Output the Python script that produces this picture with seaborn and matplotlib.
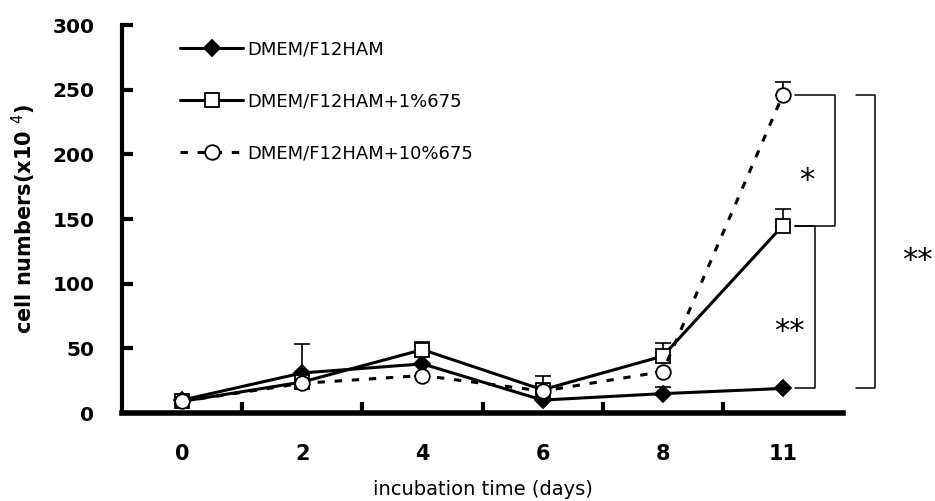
import pandas as pd
import matplotlib
matplotlib.use("Agg")
import matplotlib.pyplot as plt
import seaborn as sns

days = ["0", "2", "4", "6", "8", "11"]
labels = ["DMEM/F12HAM", "DMEM/F12HAM+1%675", "DMEM/F12HAM+10%675"]
base = [10, 31, 38, 10, 15, 19]
one_pct = [9, 24, 49, 18, 44, 145]
ten_pct = [9, 23, 29, 17, 32, 246]
base_err = [0, 22, 0, 0, 5, 0]
one_err = [0, 0, 6, 11, 10, 13]
ten_err = [0, 0, 0, 0, 0, 10]

sns.set_style("ticks")
plt.rcParams["font.family"] = ["DejaVu Sans"]
for k in ["text.color", "axes.labelcolor", "xtick.color", "ytick.color", "axes.edgecolor"]:
    plt.rcParams[k] = "black"

fig = plt.figure(figsize=(9.35, 5.01), dpi=100)
ax = fig.add_axes([0.1305, 0.1756, 0.7711, 0.7744])

series = [
    (labels[0], base, base_err, "D", "-", "black", 8),
    (labels[1], one_pct, one_err, "s", "-", "white", 10),
    (labels[2], ten_pct, ten_err, "o", (0, (2.4, 3.2)), "white", 10.5),
]

for i, (name, vals, err, mk, ls, face, ms) in enumerate(series):
    df = pd.DataFrame({"day": days, "cells": vals})
    ax.errorbar(range(len(days)), vals, yerr=[[0] * len(err), err], fmt="none",
                ecolor="black", elinewidth=1.2, capsize=6, capthick=1.2, zorder=1)
    sns.pointplot(data=df, x="day", y="cells", order=days, ax=ax, color="black",
                  marker=mk, linestyle=ls, markersize=ms, markerfacecolor=face,
                  markeredgecolor="black", markeredgewidth=1.3, linewidth=2.2,
                  errorbar=None, label=name)

# legend
handles, hl = ax.get_legend_handles_labels()
order = [hl.index(l) for l in labels]
leg = ax.legend([handles[i] for i in order], labels, loc="upper left",
                bbox_to_anchor=(0.058, 1.003), frameon=False, handlelength=3.5,
                handletextpad=0.2, labelspacing=1.9,
                prop={"family": "DejaVu Sans", "size": 13})

# significance brackets
x_in0, x_in1, x_mid, x_out0, x_out1 = 5.1, 5.43, 5.265, 5.61, 5.77
ax.plot([x_in0, x_in1, x_in1, x_in0], [ten_pct[5], ten_pct[5], one_pct[5], one_pct[5]],
        color="black", lw=1.1, clip_on=False)
ax.plot([x_in0, x_mid, x_mid, x_in0], [one_pct[5], one_pct[5], base[5], base[5]],
        color="black", lw=1.1, clip_on=False)
ax.plot([x_out0, x_out1, x_out1, x_out0], [ten_pct[5], ten_pct[5], base[5], base[5]],
        color="black", lw=1.1, clip_on=False)
ax.text(5.2, 180, "*", fontsize=22, ha="center", va="center")
ax.text(5.05, 63, "**", fontsize=22, ha="center", va="center")
ax.text(6.12, 118, "**", fontsize=22, ha="center", va="center", clip_on=False)

ax.set_xlim(-0.5, 5.5)
ax.set_ylim(0, 300)
ax.set_yticks(range(0, 301, 50))
ax.set_xticks(range(len(days)))
ax.set_xticklabels(days)
ax.set_xticks([0.5, 1.5, 2.5, 3.5, 4.5], minor=True)
ax.tick_params(axis="x", which="major", length=0, pad=22, labelsize=15)
ax.tick_params(axis="x", which="minor", direction="in", length=8, width=3)
ax.tick_params(axis="y", direction="in", length=8, width=3, pad=20, labelsize=14.5)
for t in ax.get_xticklabels() + ax.get_yticklabels():
    t.set_fontweight("bold")

ax.set_xlabel("incubation time (days)", fontsize=14, labelpad=12)
ax.set_ylabel("cell numbers(x10 $^{4}$)", fontsize=15, fontweight="bold", labelpad=10)

sns.despine(ax=ax)
ax.spines["left"].set_linewidth(3)
ax.spines["bottom"].set_linewidth(4)

fig.savefig("out.png", dpi=100)
